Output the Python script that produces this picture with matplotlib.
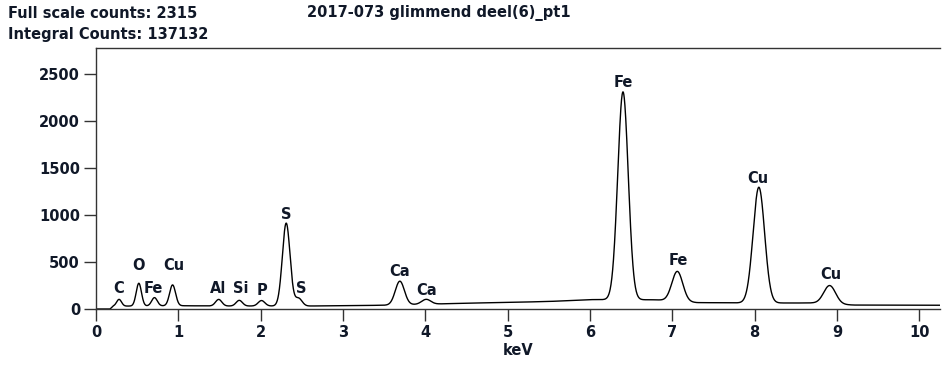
import numpy as np
import matplotlib.pyplot as plt

# EDS spectrum, sample 2017-073, point 1
full_scale = 2315
integral_counts = 137132

# fitted lines: energy (keV), peak counts above background, FWHM (keV)
peak_kev = [0.28, 0.52, 0.71, 0.93, 1.49, 1.74, 2.01, 2.31, 2.46,
            3.69, 4.01, 6.40, 7.06, 8.05, 8.91]
peak_counts = [72, 242, 88, 222, 70, 60, 58, 882, 82,
               252, 52, 2212, 318, 1232, 195]
peak_fwhm = [0.07, 0.075, 0.08, 0.085, 0.09, 0.09, 0.095, 0.11, 0.10,
             0.13, 0.13, 0.15, 0.155, 0.165, 0.17]

# bremsstrahlung background under the lines
bg_kev = [0.0, 0.17, 0.21, 1.0, 1.5, 2.0, 2.6, 3.0, 3.5, 4.2, 4.5, 5.0,
          5.5, 6.0, 6.8, 7.3, 8.0, 8.7, 9.2, 10.25]
bg_counts = [0, 0, 30, 35, 32, 32, 32, 35, 40, 55, 62, 70,
             80, 100, 98, 68, 64, 64, 42, 40]

# element labels: text, energy, label height (counts)
label_text = ["C", "O", "Fe", "Cu", "Al", "Si", "P", "S", "S",
              "Ca", "Ca", "Fe", "Fe", "Cu", "Cu"]
label_kev = [0.28, 0.52, 0.70, 0.94, 1.48, 1.76, 2.02, 2.31, 2.49,
             3.69, 4.01, 6.40, 7.07, 8.04, 8.92]
label_counts = [213, 468, 223, 468, 213, 213, 202, 1011, 213,
                394, 202, 2415, 511, 1394, 362]

kev = np.linspace(0, 10.25, 4000)
counts = np.interp(kev, bg_kev, bg_counts)
for e, h, w in zip(peak_kev, peak_counts, peak_fwhm):
    sigma = w / 2.3548
    counts = counts + h * np.exp(-0.5 * ((kev - e) / sigma) ** 2)

txt_color = "#101828"
plt.rcParams["font.family"] = "DejaVu Sans"
plt.rcParams["font.weight"] = "bold"
plt.rcParams["font.size"] = 10.5

fig = plt.figure(figsize=(9.42, 3.69), dpi=100)
ax = fig.add_axes([96 / 942, 1 - 309 / 369, 844 / 942, 261 / 369])

ax.plot(kev, counts, color="black", lw=1.0)

for t, x, y in zip(label_text, label_kev, label_counts):
    ax.text(x, y, t, ha="center", va="center", color=txt_color,
            fontsize=10.5, fontweight="bold")

ax.set_xlim(0, 10.25)
ax.set_ylim(0, full_scale * 1.2)
ax.set_xticks(range(0, 11))
ax.set_yticks([0, 500, 1000, 1500, 2000, 2500])
ax.tick_params(direction="out", length=8.5, width=1, color="#333333",
               labelcolor=txt_color, labelsize=10.5, pad=3)
for lab in ax.get_xticklabels() + ax.get_yticklabels():
    lab.set_fontweight("bold")
ax.spines["right"].set_visible(False)
for s in ["left", "bottom", "top"]:
    ax.spines[s].set_color("#333333")
    ax.spines[s].set_linewidth(1.0)

ax.set_xlabel("keV", color=txt_color, fontweight="bold", labelpad=2)

fig.text(8 / 942, 1 - 13 / 369, f"Full scale counts: {full_scale}",
         ha="left", va="center", color=txt_color, fontweight="bold")
fig.text(8 / 942, 1 - 35 / 369, f"Integral Counts: {integral_counts}",
         ha="left", va="center", color=txt_color, fontweight="bold")
fig.text(439 / 942, 1 - 13 / 369, "2017-073 glimmend deel(6)_pt1",
         ha="center", va="center", color=txt_color, fontweight="bold")

fig.savefig("out.png", dpi=100)
